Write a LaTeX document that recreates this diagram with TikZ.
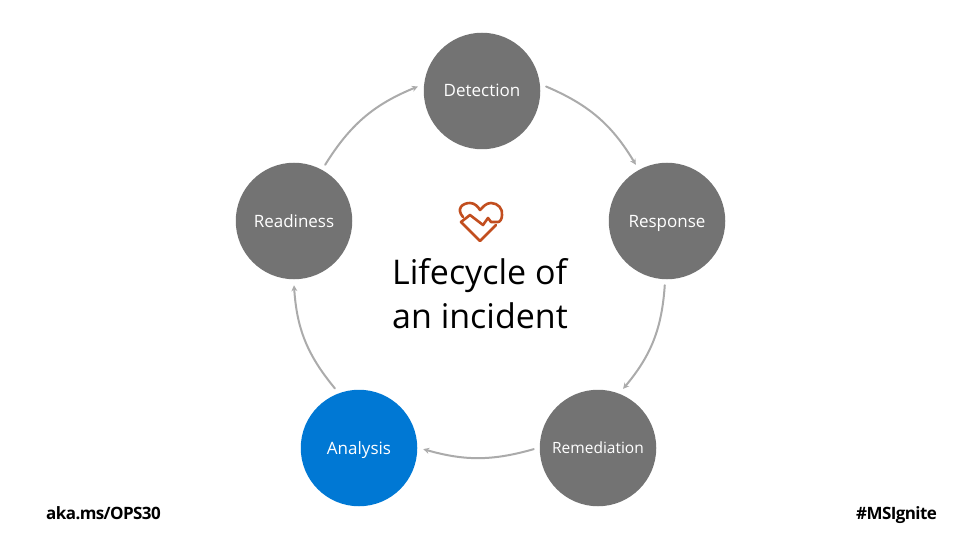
\documentclass[tikz,border=0pt]{standalone}
\usepackage{fontspec}
\setmainfont{Open Sans}
\usetikzlibrary{arrows.meta}
\definecolor{stepgray}{HTML}{737373}
\definecolor{stepblue}{HTML}{0078D4}
\definecolor{flowgray}{HTML}{ABABAB}
\definecolor{heartred}{HTML}{C24E1F}
\tikzset{
  stage/.style={circle, fill=stepgray, text=white, minimum size=116.5pt, inner sep=0pt, outer sep=6pt, text height=12.5pt, text depth=0.5pt, font=\fontsize{17}{20}\selectfont},
  flow/.style={draw=flowgray, line width=2pt, -{Stealth[length=6pt,width=6pt]}},
  corner/.style={inner sep=0pt, text height=12pt, text depth=0pt, font=\fontsize{17}{22}\bfseries\selectfont\addfontfeature{LetterSpace=-3.5}}
}
\begin{document}
\begin{tikzpicture}[x=1pt, y=-1pt, line cap=round, line join=round]
  \useasboundingbox (0,0) rectangle (960,540);
  % las cinco etapas
  \node[stage] (detection) at (482,91) {Detection};
  \node[stage] (readiness) at (294,221) {Readiness};
  \node[stage] (response) at (667,221) {Response};
  \node[stage, fill=stepblue] (analysis) at (359,448) {Analysis};
  \node[stage, text height=11.5pt, font=\fontsize{15.5}{18}\selectfont] (remediation) at (598,448) {Remediation};
  % las flechas entre etapas
  \draw[flow] (readiness.61) to[bend left=18] (detection.176);
  \draw[flow] (detection.4) to[bend left=18] (response.119);
  \draw[flow] (response.-92) to[bend left=18] (remediation.67);
  \draw[flow] (remediation.181) to[bend left=16] (analysis.-1);
  \draw[flow] (analysis.112) to[bend left=18] (readiness.-90);
  % el titulo del centro
  \node[align=left, inner sep=0pt, font=\fontsize{34}{44}\selectfont] (title) at (480,294) {Lifecycle of\\an incident};
  % el corazon
  \draw[heartred, line width=2.6pt] (463,217) .. controls (456,209) and (462,203) .. (470,203)
    .. controls (475,203) and (478,207) .. (480,210) .. controls (483,207) and (486,203) .. (491,203)
    .. controls (498,203) and (503,209) .. (502,215) .. controls (502,219) and (500,222) .. (498,222)
    -- (491,222) -- (488,218) -- (483,225) -- (470,215) -- (461,222) -- (480,241) -- (496,225);
  % las esquinas
  \node[corner, anchor=west] (link) at (46,513) {aka.ms/OPS30};
  \node[corner, anchor=east] (tag) at (937,513) {\#MSIgnite};
\end{tikzpicture}
\end{document}
